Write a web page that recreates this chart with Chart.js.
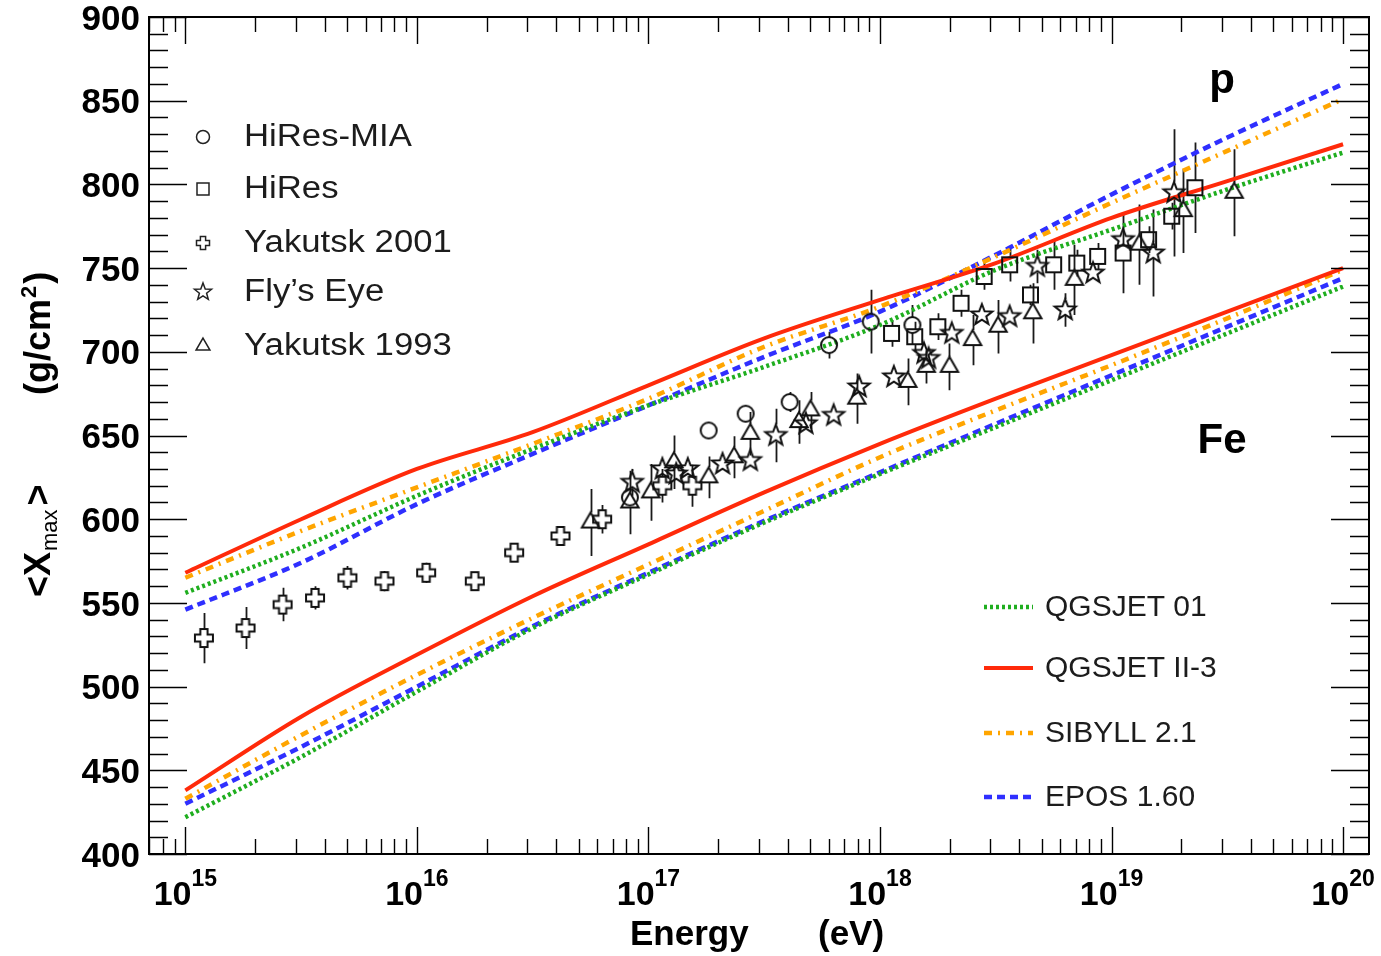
<!DOCTYPE html>
<html>
<head>
<meta charset="utf-8">
<script src="https://cdn.jsdelivr.net/npm/chart.js@4.4.1/dist/chart.umd.min.js"></script>
<style>
  html, body { margin: 0; padding: 0; background: #fff; }
  #c { display: block; }
</style>
</head>
<body>
<canvas id="c" width="1381" height="956" style="width:1381px;height:956px"></canvas>
<script>
// Model predictions, log10(E/eV) grid
const modelLogE = [15, 15.5, 16, 16.5, 17, 17.5, 18, 18.5, 19, 19.5, 20];

const qgsjet01Proton  = [556, 583, 614, 642, 668, 691, 716, 749, 773, 797, 819];
const qgsjet2Proton   = [568, 600, 630, 652, 680, 708, 731, 753, 780, 802, 824];
const sibyllProton    = [565, 593, 619, 645, 672, 703, 727, 757, 789, 820, 851];
const eposProton      = [546, 574, 609, 639, 668, 697, 724, 758, 794, 828, 860];

const qgsjet01Iron    = [422, 458, 497, 535, 567, 598, 627, 655, 683, 711, 739];
const qgsjet2Iron     = [438, 482, 519, 554, 585, 616, 645, 672, 698, 724, 750];
const sibyllIron      = [433, 471, 507, 541, 573, 605, 637, 665, 692, 720, 749];
const eposIron        = [430, 464, 500, 536, 568, 599, 628, 657, 686, 715, 744];

// Measurements: [log10(E/eV), <Xmax> g/cm2, error]
const hiresMia = [
  [16.92, 613, 0], [17.26, 653, 0], [17.42, 663, 4], [17.61, 670, 6],
  [17.78, 704, 8], [17.96, 718, 19], [18.14, 716, 12]
];
const hires = [
  [18.05, 711, 8], [18.15, 709, 9], [18.25, 715, 8], [18.35, 729, 8],
  [18.45, 745, 8], [18.56, 752, 10], [18.65, 734, 6], [18.75, 752, 15],
  [18.85, 753, 8], [18.94, 757, 8], [19.05, 759, 24], [19.16, 767, 8],
  [19.26, 781, 8], [19.36, 798, 27]
];
const yakutsk2001 = [
  [15.08, 529, 15], [15.26, 535, 12.5], [15.42, 549, 10], [15.56, 553, 7],
  [15.70, 565, 7], [15.86, 563, 6], [16.04, 568, 6], [16.25, 563, 3],
  [16.42, 580, 3], [16.62, 590, 3], [16.80, 600, 8.5], [17.06, 620, 10],
  [17.19, 620, 12.5]
];
const flysEye = [
  [16.93, 622, 8], [17.06, 630, 0], [17.12, 627, 0], [17.17, 630, 0],
  [17.32, 633, 0], [17.44, 635, 0], [17.55, 650, 16], [17.68, 657, 0],
  [17.80, 662, 0], [17.91, 679, 0], [18.06, 685, 0], [18.19, 699, 0],
  [18.21, 696, 0], [18.31, 711, 0], [18.44, 722, 0], [18.56, 721, 0],
  [18.68, 751, 10], [18.80, 725, 10], [18.92, 747, 0], [19.05, 767, 0],
  [19.18, 759, 26], [19.27, 795, 38]
];
const yakutsk1993 = [
  [16.75, 598, 20], [16.92, 610, 19], [17.01, 616, 17], [17.11, 634, 16],
  [17.26, 625, 12.5], [17.37, 637, 12.5], [17.44, 651, 13], [17.65, 658, 13],
  [17.70, 665, 11], [17.90, 672, 15], [18.12, 682, 14], [18.20, 691, 10],
  [18.30, 691, 14], [18.40, 707, 15], [18.51, 715, 16], [18.66, 723, 18],
  [18.84, 743, 21], [19.12, 764, 24], [19.31, 784, 25], [19.53, 795, 26]
];

// Axis ticks
const decadeLabels = [15, 16, 17, 18, 19, 20];
const xmaxLabels = [400, 450, 500, 550, 600, 650, 700, 750, 800, 850, 900];
const xLogMin = 14.843, xLogMax = 20.112;

const FONT = '"Liberation Sans", Arial, Helvetica, sans-serif';
const GREEN = '#1fae1f', RED = '#ff2a0a', ORANGE = '#ffa500', BLUE = '#2f2fff';

// marker outlines shared by the plot and the legend
function markerPath(g, kind, cx, cy, s) {
  g.beginPath();
  if (kind === 'circle') {
    g.arc(cx, cy, s, 0, Math.PI * 2);
  } else if (kind === 'square') {
    g.rect(cx - s, cy - s, 2 * s, 2 * s);
  } else if (kind === 'triangle') {
    g.moveTo(cx, cy - s);
    g.lineTo(cx + s * 0.866, cy + s * 0.5);
    g.lineTo(cx - s * 0.866, cy + s * 0.5);
    g.closePath();
  } else if (kind === 'star') {
    for (let i = 0; i < 10; i++) {
      const a = -Math.PI / 2 + i * Math.PI / 5;
      const r = i % 2 ? s * 0.42 : s;
      g.lineTo(cx + r * Math.cos(a), cy + r * Math.sin(a));
    }
    g.closePath();
  } else if (kind === 'plus') {
    const w = s * 0.4;
    g.moveTo(cx - w, cy - s); g.lineTo(cx + w, cy - s); g.lineTo(cx + w, cy - w);
    g.lineTo(cx + s, cy - w); g.lineTo(cx + s, cy + w); g.lineTo(cx + w, cy + w);
    g.lineTo(cx + w, cy + s); g.lineTo(cx - w, cy + s); g.lineTo(cx - w, cy + w);
    g.lineTo(cx - s, cy + w); g.lineTo(cx - s, cy - w); g.lineTo(cx - w, cy - w);
    g.closePath();
  }
}

function markerCanvas(kind, s) {
  const c = document.createElement('canvas');
  c.width = c.height = Math.ceil(2 * s + 6);
  const g = c.getContext('2d');
  g.strokeStyle = '#111';
  g.lineWidth = 2;
  markerPath(g, kind, c.width / 2, c.height / 2, s);
  g.stroke();
  return c;
}

const toPoints = (rows) => rows.map(r => ({ x: 10 ** r[0], y: r[1] }));
const curve = (vals) => modelLogE.map((lg, i) => ({ x: 10 ** lg, y: vals[i] }));

function dataSeries(label, rows, kind, s, gapBottom) {
  return {
    type: 'scatter',
    label,
    data: toPoints(rows),
    errors: rows.map(r => r[2]),
    gapTop: s,
    gapBottom: gapBottom,
    pointStyle: markerCanvas(kind, s),
    pointRadius: s,
    order: 0
  };
}

function modelLine(label, vals, color, dash, width) {
  return {
    type: 'line',
    label,
    data: curve(vals),
    borderColor: color,
    borderWidth: width,
    borderDash: dash,
    borderCapStyle: 'butt',
    pointRadius: 0,
    fill: false,
    cubicInterpolationMode: 'monotone',
    order: 5
  };
}

const lineStyles = [
  { name: 'QGSJET 01', color: GREEN, dash: [3, 3], width: 4.5, p: qgsjet01Proton, fe: qgsjet01Iron },
  { name: 'QGSJET II-3', color: RED, dash: [], width: 4, p: qgsjet2Proton, fe: qgsjet2Iron },
  { name: 'SIBYLL 2.1', color: ORANGE, dash: [8, 6, 2, 6], width: 4.5, p: sibyllProton, fe: sibyllIron },
  { name: 'EPOS 1.60', color: BLUE, dash: [8, 5], width: 4.5, p: eposProton, fe: eposIron }
];

const datasets = [];
lineStyles.forEach(m => {
  datasets.push(modelLine(m.name + ' p', m.p, m.color, m.dash, m.width));
  datasets.push(modelLine(m.name + ' Fe', m.fe, m.color, m.dash, m.width));
});
datasets.push(dataSeries('HiRes-MIA', hiresMia, 'circle', 8, 8));
datasets.push(dataSeries('HiRes', hires, 'square', 7.5, 7.5));
datasets.push(dataSeries('Yakutsk 2001', yakutsk2001, 'plus', 9, 9));
datasets.push(dataSeries("Fly’s Eye", flysEye, 'star', 11, 6));
datasets.push(dataSeries('Yakutsk 1993', yakutsk1993, 'triangle', 10, 5));

const markerLegend = [
  { text: 'HiRes-MIA', kind: 'circle', s: 6.5, y: 137 },
  { text: 'HiRes', kind: 'square', s: 6, y: 189 },
  { text: 'Yakutsk 2001', kind: 'plus', s: 6.5, y: 243 },
  { text: 'Fly’s Eye', kind: 'star', s: 9, y: 292 },
  { text: 'Yakutsk 1993', kind: 'triangle', s: 8, y: 346 }
];
const lineLegendY = [607, 668, 733, 797];

// vertical error bars, stopping at the marker outline
const errorBars = {
  id: 'errorBars',
  beforeDatasetsDraw(chart) {
    const { ctx, scales: { x, y } } = chart;
    ctx.save();
    ctx.strokeStyle = '#1a1a1a';
    ctx.lineWidth = 1.8;
    chart.data.datasets.forEach(ds => {
      if (!ds.errors) return;
      ds.data.forEach((p, j) => {
        const e = ds.errors[j];
        if (!e) return;
        const px = Math.round(x.getPixelForValue(p.x)) + 0.5;
        const py = y.getPixelForValue(p.y);
        const top = y.getPixelForValue(p.y + e);
        const bot = y.getPixelForValue(p.y - e);
        ctx.beginPath();
        if (top < py - ds.gapTop) { ctx.moveTo(px, top); ctx.lineTo(px, py - ds.gapTop); }
        if (bot > py + ds.gapBottom) { ctx.moveTo(px, py + ds.gapBottom); ctx.lineTo(px, bot); }
        ctx.stroke();
      });
    });
    ctx.restore();
  }
};

// frame, inner ticks, tick labels, titles and both legends
const decorations = {
  id: 'decorations',
  afterDraw(chart) {
    const { ctx, chartArea: a, scales: { x, y } } = chart;
    ctx.save();
    ctx.strokeStyle = '#000';
    ctx.lineWidth = 1.4;
    ctx.beginPath();
    for (let e = 14; e <= 20; e++) {
      for (let m = 1; m <= 9; m++) {
        const v = m * 10 ** e;
        if (v < x.min || v > x.max) continue;
        const px = Math.round(x.getPixelForValue(v)) + 0.5;
        const len = m === 1 ? 27 : 15;
        ctx.moveTo(px, a.bottom); ctx.lineTo(px, a.bottom - len);
        ctx.moveTo(px, a.top); ctx.lineTo(px, a.top + len);
      }
    }
    for (let v = y.min; v <= y.max; v += 10) {
      const py = Math.round(y.getPixelForValue(v)) + 0.5;
      const len = v % 50 === 0 ? 38 : 19;
      ctx.moveTo(a.left, py); ctx.lineTo(a.left + len, py);
      ctx.moveTo(a.right, py); ctx.lineTo(a.right - len, py);
    }
    ctx.stroke();
    ctx.lineWidth = 2;
    ctx.strokeRect(a.left, a.top, a.right - a.left, a.bottom - a.top);

    // y tick labels
    ctx.fillStyle = '#000';
    ctx.font = `bold 35px ${FONT}`;
    ctx.textAlign = 'right';
    ctx.textBaseline = 'middle';
    xmaxLabels.forEach(v => ctx.fillText(String(v), a.left - 9, y.getPixelForValue(v) + 3));

    // x tick labels as 10 with a raised exponent
    ctx.textAlign = 'left';
    ctx.textBaseline = 'alphabetic';
    decadeLabels.forEach(e => {
      const px = x.getPixelForValue(10 ** e);
      ctx.font = `bold 34px ${FONT}`;
      const wBase = ctx.measureText('10').width;
      ctx.font = `bold 23px ${FONT}`;
      const wExp = ctx.measureText(String(e)).width;
      const left = px - (wBase + wExp) / 2;
      ctx.font = `bold 34px ${FONT}`;
      ctx.fillText('10', left, 905);
      ctx.font = `bold 23px ${FONT}`;
      ctx.fillText(String(e), left + wBase, 886);
    });

    // axis titles
    ctx.font = `bold 35px ${FONT}`;
    ctx.fillText('Energy', 630, 945);
    ctx.fillText('(eV)', 818, 945);

    ctx.save();
    ctx.translate(50, 597);
    ctx.rotate(-Math.PI / 2);
    let t = 0;
    ctx.font = `bold 36px ${FONT}`;
    ctx.fillText('<X', t, 0); t += ctx.measureText('<X').width;
    ctx.font = `22px ${FONT}`;
    ctx.fillText('max', t + 1, 7); t += ctx.measureText('max').width + 5;
    ctx.font = `bold 36px ${FONT}`;
    ctx.fillText('>', t, 0);
    t = 202;
    ctx.fillText('(g/cm', t, 0); t += ctx.measureText('(g/cm').width;
    ctx.font = `bold 22px ${FONT}`;
    ctx.fillText('2', t + 1, -14); t += ctx.measureText('2').width + 3;
    ctx.font = `bold 36px ${FONT}`;
    ctx.fillText(')', t, 0);
    ctx.restore();

    // primary labels
    ctx.font = `bold 42px ${FONT}`;
    ctx.textAlign = 'center';
    ctx.fillText('p', 1222, 93);
    ctx.fillText('Fe', 1222, 453);

    // data legend
    ctx.textAlign = 'left';
    ctx.textBaseline = 'middle';
    ctx.fillStyle = '#1c1c1c';
    markerLegend.forEach(it => {
      ctx.strokeStyle = '#222';
      ctx.lineWidth = 1.5;
      markerPath(ctx, it.kind, 203, it.y, it.s);
      ctx.stroke();
      ctx.save();
      ctx.translate(244, it.y);
      ctx.scale(1.12, 1);
      ctx.font = `31px ${FONT}`;
      ctx.fillText(it.text, 0, 0);
      ctx.restore();
    });

    // model legend
    ctx.font = `30px ${FONT}`;
    lineStyles.forEach((m, i) => {
      const ly = lineLegendY[i];
      ctx.strokeStyle = m.color;
      ctx.lineWidth = m.width;
      ctx.setLineDash(m.dash);
      ctx.beginPath();
      ctx.moveTo(984, ly); ctx.lineTo(1033, ly);
      ctx.stroke();
      ctx.setLineDash([]);
      ctx.fillText(m.name, 1045, ly + 1);
    });
    ctx.restore();
  }
};

new Chart(document.getElementById('c'), {
  type: 'scatter',
  data: { datasets },
  options: {
    responsive: false,
    animation: false,
    devicePixelRatio: 1,
    layout: { padding: { left: 0, right: 11, top: 17, bottom: 0 } },
    plugins: {
      legend: { display: false },
      tooltip: { enabled: false }
    },
    scales: {
      x: {
        type: 'logarithmic',
        min: 10 ** xLogMin,
        max: 10 ** xLogMax,
        ticks: { display: false },
        grid: { display: false },
        border: { display: false },
        afterFit(s) { s.height = 102; }
      },
      y: {
        min: 400,
        max: 900,
        ticks: { display: false },
        grid: { display: false },
        border: { display: false },
        afterFit(s) { s.width = 149; }
      }
    }
  },
  plugins: [errorBars, decorations]
});
</script>
</body>
</html>
